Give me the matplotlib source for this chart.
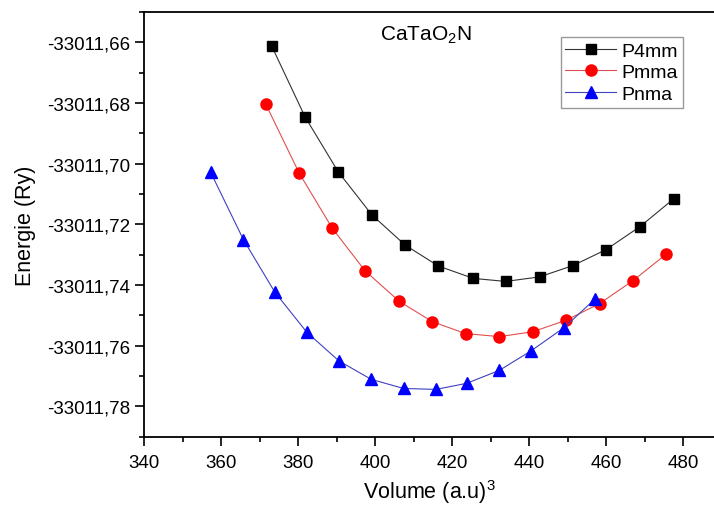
import matplotlib
matplotlib.use('Agg')
import matplotlib.pyplot as plt
from matplotlib.ticker import MultipleLocator, FuncFormatter

plt.rcParams['font.family'] = ['Liberation Sans', 'DejaVu Sans']
plt.rcParams['mathtext.fontset'] = 'custom'
plt.rcParams['mathtext.rm'] = 'Liberation Sans'
plt.rcParams['mathtext.default'] = 'regular'

# volumes (a.u^3) and energies (Ry)
vol_p4mm = [373.2, 381.8, 390.4, 399.2, 407.8, 416.4, 425.5, 433.9, 442.7, 451.3, 460.0, 468.8, 477.5]
e_p4mm = [-33011.6613, -33011.6845, -33011.7026, -33011.7169, -33011.7268, -33011.7337, -33011.7378,
          -33011.7388, -33011.7373, -33011.7336, -33011.7283, -33011.7207, -33011.7116]

vol_pmma = [371.6, 380.3, 388.9, 397.4, 406.3, 414.9, 423.5, 432.3, 440.9, 449.6, 458.3, 466.9, 475.6]
e_pmma = [-33011.6803, -33011.7031, -33011.7213, -33011.7353, -33011.7454, -33011.7521, -33011.7560,
          -33011.7570, -33011.7554, -33011.7516, -33011.7461, -33011.7386, -33011.7298]

vol_pnma = [357.3, 365.8, 374.0, 382.3, 390.6, 399.0, 407.4, 415.8, 423.8, 432.3, 440.5, 449.1, 457.1]
e_pnma = [-33011.7028, -33011.7250, -33011.7424, -33011.7556, -33011.7650, -33011.7711, -33011.7741,
          -33011.7744, -33011.7724, -33011.7681, -33011.7617, -33011.7540, -33011.7446]

fig = plt.figure(figsize=(7.14, 5.06), dpi=100)
ax = fig.add_axes([0.2017, 0.135, 0.7983, 0.839])

ax.plot(vol_p4mm, e_p4mm, '-s', color='#333333', lw=0.8, mfc='black', mec='black', ms=7.5, label='P4mm')
ax.plot(vol_pmma, e_pmma, '-o', color='#e05050', lw=0.8, mfc='red', mec='red', ms=8, label='Pmma')
ax.plot(vol_pnma, e_pnma, '-^', color='#4040c0', lw=0.8, mfc='blue', mec='blue', ms=8.5, label='Pnma')

ax.set_xlim(340, 488)
ax.set_ylim(-33011.79, -33011.65)
ax.xaxis.set_major_locator(MultipleLocator(20))
ax.xaxis.set_minor_locator(MultipleLocator(10))
ax.yaxis.set_major_locator(MultipleLocator(0.02))
ax.yaxis.set_minor_locator(MultipleLocator(0.01))
ax.yaxis.set_major_formatter(FuncFormatter(lambda v, p: f'{v:.2f}'.replace('.', ',')))

ax.spines['right'].set_visible(False)
for s in ['left', 'bottom', 'top']:
    ax.spines[s].set_linewidth(1.3)
ax.tick_params(which='both', direction='out', top=False, right=False, width=1.2)
ax.tick_params(which='major', length=6.5, labelsize=13.5)
ax.tick_params(axis='x', which='major', pad=6)
ax.tick_params(which='minor', length=3.5)

ax.set_xlabel('Volume (a.u)$^3$', fontsize=15.5, labelpad=4)
ax.set_ylabel('Energie (Ry)', fontsize=15.5, labelpad=8)

ax.text(0.414, 0.948, 'CaTaO$_2$N', transform=ax.transAxes, fontsize=15, va='center', ha='left')

leg = ax.legend(loc='upper right', bbox_to_anchor=(0.946, 0.941), fontsize=14, frameon=True,
                fancybox=False, edgecolor='gray', handlelength=2.6, borderpad=0.25,
                labelspacing=0.2, handletextpad=0.3, borderaxespad=0)
leg.get_frame().set_linewidth(1.0)

fig.savefig('out.png', dpi=100)
